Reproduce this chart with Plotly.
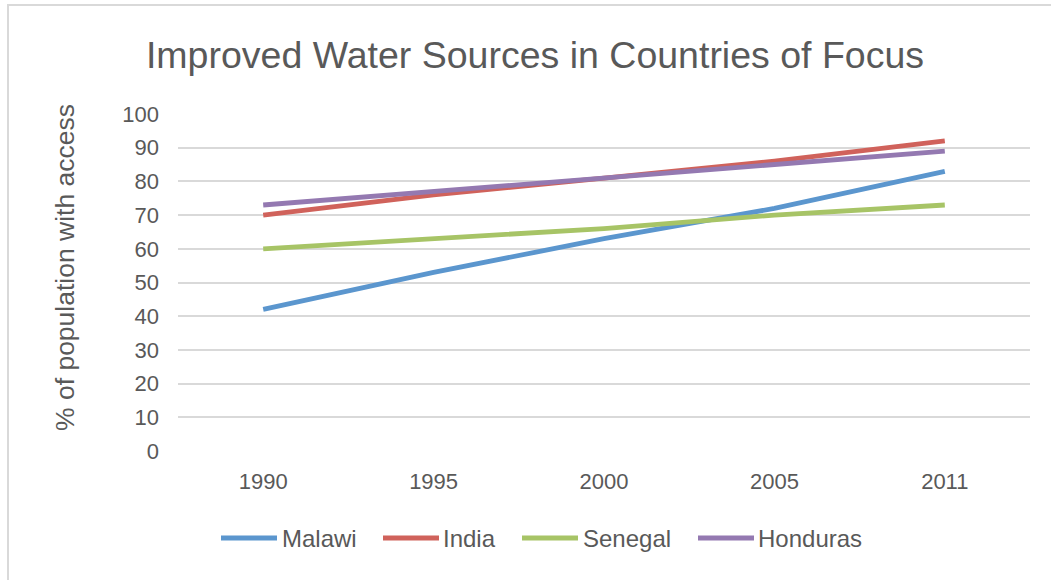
import plotly.graph_objects as go

years = ["1990", "1995", "2000", "2005", "2011"]
malawi = [42, 53, 63, 72, 83]
india = [70, 76, 81, 86, 92]
senegal = [60, 63, 66, 70, 73]
honduras = [73, 77, 81, 85, 89]

series = [
    ("Malawi", malawi, "#5B96CE"),
    ("India", india, "#D0625B"),
    ("Senegal", senegal, "#A7C466"),
    ("Honduras", honduras, "#9479B1"),
]

W, H = 1051, 580
L, R, T, B = 178, 21, 114, 129
pw, ph = W - L - R, H - T - B

def px_x(p):
    return (p - L) / pw

def px_y(p):
    return (H - B - p) / ph

fig = go.Figure()
for name, vals, col in series:
    fig.add_trace(go.Scatter(x=years, y=vals, name=name, mode="lines",
                             line=dict(color=col, width=4.8), showlegend=False))

font_col = "#595959"
fig.update_layout(
    width=W, height=H,
    margin=dict(l=L, r=R, t=T, b=B),
    paper_bgcolor="white", plot_bgcolor="white",
    font=dict(family="Liberation Sans, Arial, sans-serif", color=font_col, size=21),
    title=dict(text="Improved Water Sources in Countries of Focus",
               x=535 / W, xanchor="center", xref="container", y=(H - 55) / H, yanchor="middle",
               font=dict(size=37.5, color=font_col)),
    xaxis=dict(type="category", range=[-0.5, 4.5], showgrid=False, zeroline=False,
               showline=False, ticks="", ticklabelstandoff=15,
               tickfont=dict(size=22, color=font_col)),
    yaxis=dict(range=[0, 100], dtick=10, showgrid=True, gridcolor="#D9D9D9", gridwidth=1.5,
               zeroline=False, showline=False, ticks="", ticklabelstandoff=18,
               tickfont=dict(size=22, color=font_col)),
    showlegend=False,
)

# y-axis title (placed as in the reference, slightly above the plot centre)
fig.add_annotation(text="% of population with access", xref="paper", yref="paper",
                   x=px_x(65), y=px_y(268), xanchor="center", yanchor="middle",
                   textangle=-90, showarrow=False, font=dict(size=26.5, color=font_col))

# custom legend matching the reference's long line keys
legend_pos = [(221, 277, 280), (383, 439, 441), (522, 578, 581), (698, 754, 756)]
ly = 538
for (name, _, col), (x0, x1, tx) in zip(series, legend_pos):
    fig.add_shape(type="line", xref="paper", yref="paper",
                  x0=px_x(x0), x1=px_x(x1), y0=px_y(ly), y1=px_y(ly),
                  line=dict(color=col, width=5))
    fig.add_annotation(text=name, xref="paper", yref="paper", x=px_x(tx), y=px_y(ly),
                       xanchor="left", yanchor="middle", showarrow=False,
                       font=dict(size=24, color=font_col))

# outer chart border (light grey)
fig.add_shape(type="rect", xref="paper", yref="paper",
              x0=px_x(8), x1=px_x(W + 10), y0=px_y(H + 10), y1=px_y(5),
              line=dict(color="#D9D9D9", width=2), fillcolor="rgba(0,0,0,0)", layer="below")

fig.write_html("out.html")
